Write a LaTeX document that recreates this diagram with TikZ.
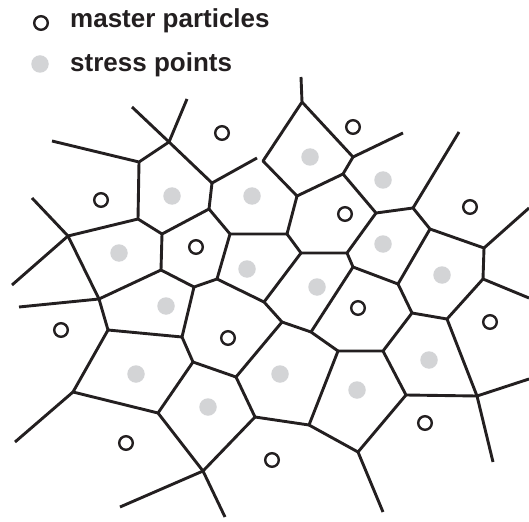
\documentclass[tikz,border=0pt]{standalone}
\usepackage{fontspec}
\setmainfont{Liberation Sans}
\definecolor{ink}{HTML}{231F20}
\definecolor{dotgray}{HTML}{D3D4D6}
\tikzset{
  cell/.style={draw=ink, line width=2.9pt, line join=round},
  master/.style={circle, draw=ink, line width=2.4pt, minimum size=13.6pt, inner sep=0pt},
  stress/.style={circle, fill=dotgray, minimum size=17.5pt, inner sep=0pt},
  legendtext/.style={anchor=base west, inner sep=0pt, text=ink, font=\fontsize{26}{30}\selectfont\bfseries}
}
\begin{document}
\begin{tikzpicture}[x=1pt, y=-1pt]
\useasboundingbox (0,0) rectangle (529,521);

% legend
\node[master] (lm) at (41,23) {};
\node[legendtext] (lmt) at (70,28) {master particles};
\node[stress] (ls) at (40,64) {};
\node[legendtext] (lst) at (70,72) {stress points};

% cell vertices
\coordinate (v1) at (169,142);
\coordinate (v2) at (139,162);
\coordinate (v3) at (212,183);
\coordinate (v4) at (209,209);
\coordinate (v5) at (138,219);
\coordinate (v6) at (68,236);
\coordinate (v7) at (162,234);
\coordinate (v8) at (161,270);
\coordinate (v9) at (230,234);
\coordinate (v10) at (217,279);
\coordinate (v11) at (194,287);
\coordinate (v12) at (99,299);
\coordinate (v13) at (108,330);
\coordinate (v14) at (182,337);
\coordinate (v15) at (193,362);
\coordinate (v16) at (236,377);
\coordinate (v17) at (73,392);
\coordinate (v18) at (158,413);
\coordinate (v19) at (203,471);
\coordinate (v20) at (255,417);
\coordinate (v21) at (264,302);
\coordinate (v22) at (282,322);
\coordinate (v23) at (311,332);
\coordinate (v24) at (338,351);
\coordinate (v25) at (309,425);
\coordinate (v26) at (383,351);
\coordinate (v27) at (412,313);
\coordinate (v28) at (447,319);
\coordinate (v29) at (406,395);
\coordinate (v30) at (477,396);
\coordinate (v31) at (358,452);
\coordinate (v32) at (302,102);
\coordinate (v33) at (263,161);
\coordinate (v34) at (353,157);
\coordinate (v35) at (343,174);
\coordinate (v36) at (297,196);
\coordinate (v37) at (376,213);
\coordinate (v38) at (413,208);
\coordinate (v39) at (430,229);
\coordinate (v40) at (484,248);
\coordinate (v41) at (483,279);
\coordinate (v42) at (287,234);
\coordinate (v43) at (301,253);
\coordinate (v44) at (347,253);
\coordinate (v45) at (353,267);
\coordinate (v46) at (398,284);

% open ends of the outer edges
\coordinate (a1) at (132,107);
\coordinate (a2) at (187,99);
\coordinate (a3) at (52,141);
\coordinate (a4) at (257,158);
\coordinate (a5) at (32,198);
\coordinate (a6) at (12,285);
\coordinate (a7) at (19,307);
\coordinate (a8) at (15,442);
\coordinate (a9) at (120,507);
\coordinate (a10) at (225,517);
\coordinate (a11) at (529,379);
\coordinate (a12) at (493,462);
\coordinate (a13) at (383,512);
\coordinate (a14) at (301,77);
\coordinate (a15) at (403,133);
\coordinate (a16) at (459,132);
\coordinate (a17) at (529,208);
\coordinate (a18) at (529,298);

% cell edges
\draw[cell] (a1) -- (v1) -- (a2);
\draw[cell] (a3) -- (v2) -- (v1) -- (v3) -- (a4);
\draw[cell] (v2) -- (v5) -- (v7) -- (v4) -- (v3);
\draw[cell] (a5) -- (v6) -- (a6);
\draw[cell] (v5) -- (v6) -- (v12) -- (a7);
\draw[cell] (v7) -- (v8) -- (v11) -- (v10) -- (v9) -- (v4);
\draw[cell] (v8) -- (v12) -- (v13) -- (v14) -- (v11);
\draw[cell] (v14) -- (v15) -- (v16);
\draw[cell] (v13) -- (v17) -- (v18) -- (v15);
\draw[cell] (v17) -- (a8);
\draw[cell] (v18) -- (v19) -- (v20) -- (v16);
\draw[cell] (a9) -- (v19) -- (a10);
\draw[cell] (v10) -- (v21) -- (v22) -- (v23) -- (v24);
\draw[cell] (v22) -- (v16);
\draw[cell] (v24) -- (v25) -- (v20);
\draw[cell] (v24) -- (v26) -- (v27) -- (v28) -- (v41);
\draw[cell] (v27) -- (v46);
\draw[cell] (v26) -- (v29) -- (v30) -- (v28);
\draw[cell] (v30) -- (a11);
\draw[cell] (v30) -- (a12);
\draw[cell] (v29) -- (v31) -- (v25);
\draw[cell] (v31) -- (a13);
\draw[cell] (a14) -- (v32) -- (v33) -- (v36) -- (v35) -- (v34) -- (v32);
\draw[cell] (v34) -- (a15);
\draw[cell] (v35) -- (v37) -- (v38) -- (v39) -- (v40) -- (v41) -- (a18);
\draw[cell] (v38) -- (a16);
\draw[cell] (v40) -- (a17);
\draw[cell] (v9) -- (v42) -- (v36);
\draw[cell] (v42) -- (v43) -- (v44) -- (v37);
\draw[cell] (v44) -- (v45) -- (v46) -- (v39);
\draw[cell] (v43) -- (v21);
\draw[cell] (v45) -- (v23);

% master particles
\node[master] (m1) at (222,133) {};
\node[master] (m2) at (101,200) {};
\node[master] (m3) at (196,247) {};
\node[master] (m4) at (353,127) {};
\node[master] (m5) at (345,214) {};
\node[master] (m6) at (470,207) {};
\node[master] (m7) at (61,330) {};
\node[master] (m8) at (228,338) {};
\node[master] (m9) at (126,443) {};
\node[master] (m10) at (358,308) {};
\node[master] (m11) at (490,322) {};
\node[master] (m12) at (425,423) {};
\node[master] (m13) at (272,460) {};

% stress points
\node[stress] (s1) at (172,196) {};
\node[stress] (s2) at (252,196) {};
\node[stress] (s3) at (119,253) {};
\node[stress] (s4) at (247,269) {};
\node[stress] (s5) at (310,157) {};
\node[stress] (s6) at (383,180) {};
\node[stress] (s7) at (383,244) {};
\node[stress] (s8) at (442,275) {};
\node[stress] (s9) at (317,287) {};
\node[stress] (s10) at (166,306) {};
\node[stress] (s11) at (136,374) {};
\node[stress] (s12) at (208,407) {};
\node[stress] (s13) at (280,374) {};
\node[stress] (s14) at (357,390) {};
\node[stress] (s15) at (429,360) {};
\end{tikzpicture}
\end{document}
